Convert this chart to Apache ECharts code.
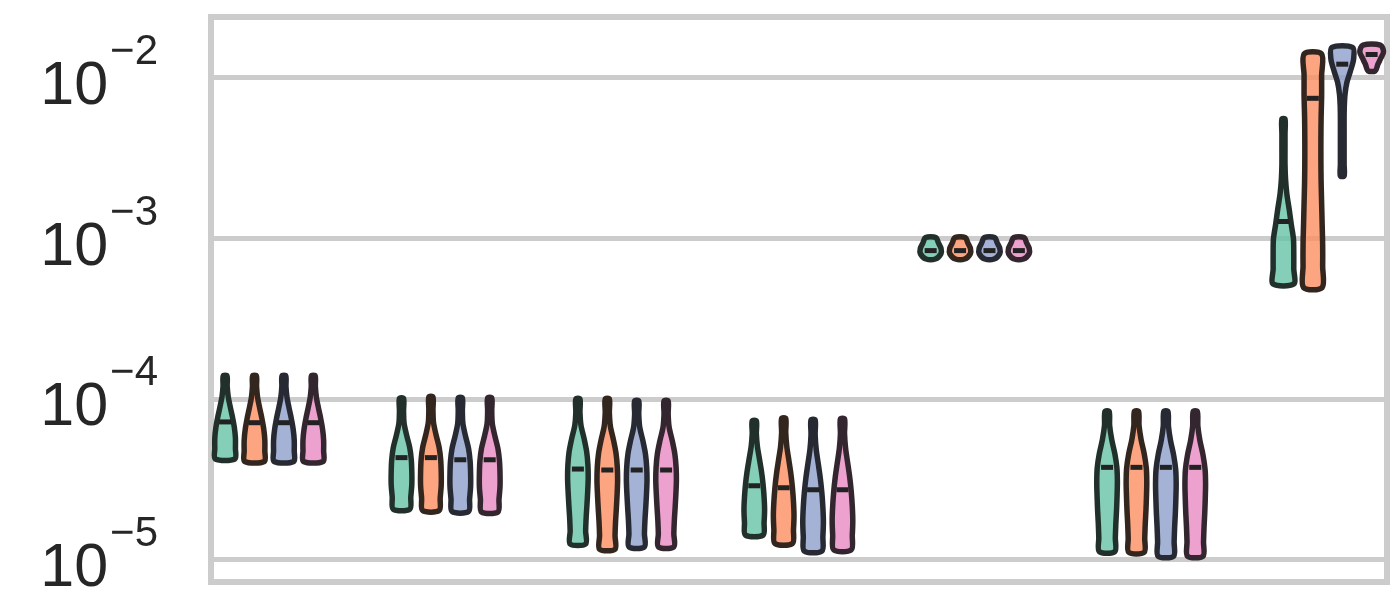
<!DOCTYPE html>
<html><head><meta charset="utf-8">
<script src="https://cdn.jsdelivr.net/npm/echarts@6/dist/echarts.min.js"></script>
<style>html,body{margin:0;padding:0;background:#fff}#c{width:1400px;height:600px}</style>
</head><body><div id="c"></div>
<script>
// ---------- data ----------
const groups = ['G1', 'G2', 'G3', 'G4', 'G5', 'G6', 'G7'];
const hues = ['H1', 'H2', 'H3', 'H4'];
const fillColors = ['rgba(102,194,165,0.8)', 'rgba(252,141,98,0.8)', 'rgba(141,160,203,0.8)', 'rgba(231,138,195,0.8)'];
const edgeColors = ['#22302b', '#33261f', '#272a33', '#33262f'];

// violin lower end (min), per group x hue
const lowValues = [
  [4.23e-5, 4.08e-5, 4.08e-5, 4.08e-5],
  [2.06e-5, 2.02e-5, 1.99e-5, 1.98e-5],
  [1.25e-5, 1.16e-5, 1.20e-5, 1.20e-5],
  [1.42e-5, 1.26e-5, 1.13e-5, 1.15e-5],
  [7.42e-4, 7.42e-4, 7.42e-4, 7.42e-4],
  [1.12e-5, 1.11e-5, 1.05e-5, 1.05e-5],
  [5.19e-4, 4.93e-4, 2.44e-3, 1.10e-2]
];
// violin upper end (max)
const highValues = [
  [1.39e-4, 1.39e-4, 1.39e-4, 1.39e-4],
  [1.006e-4, 1.027e-4, 1.013e-4, 1.013e-4],
  [9.99e-5, 9.99e-5, 9.70e-5, 9.70e-5],
  [7.29e-5, 7.55e-5, 7.39e-5, 7.49e-5],
  [1.01e-3, 1.01e-3, 1.01e-3, 1.01e-3],
  [8.35e-5, 8.35e-5, 8.35e-5, 8.35e-5],
  [5.52e-3, 1.40e-2, 1.54e-2, 1.59e-2]
];
// median marks
const medianValues = [
  [7.19e-5, 7.11e-5, 7.11e-5, 7.11e-5],
  [4.31e-5, 4.31e-5, 4.18e-5, 4.18e-5],
  [3.66e-5, 3.61e-5, 3.61e-5, 3.61e-5],
  [2.88e-5, 2.80e-5, 2.72e-5, 2.72e-5],
  [8.37e-4, 8.37e-4, 8.37e-4, 8.37e-4],
  [3.75e-5, 3.75e-5, 3.75e-5, 3.75e-5],
  [1.27e-3, 7.42e-3, 1.21e-2, 1.39e-2]
];
// relative density (violin width), sampled bottom -> top, evenly in log space
const profG1 = [0.95, 1.0, 1.0, 0.9, 0.72, 0.5, 0.3, 0.2, 0.18];
const profG2 = [0.8, 0.9, 1.0, 1.0, 0.95, 0.8, 0.5, 0.25, 0.2, 0.2];
const profG3 = [0.75, 0.75, 0.8, 0.88, 0.95, 1.0, 0.97, 0.85, 0.6, 0.3, 0.2, 0.2];
const profG4 = [0.85, 0.95, 1.0, 0.95, 0.85, 0.7, 0.5, 0.3, 0.2, 0.2];
const profG5 = [0.45, 1.0, 1.0, 0.75, 0.5];
const profG6 = [0.75, 0.8, 0.85, 0.92, 0.97, 1.0, 0.95, 0.75, 0.45, 0.25, 0.2];
const profG7 = [
  [1.0, 1.0, 1.0, 0.97, 0.75, 0.55, 0.33, 0.2, 0.15, 0.15, 0.15, 0.15],
  [0.9, 0.95, 0.95, 0.9, 0.85, 0.8, 0.78, 0.78, 0.8, 0.85, 0.85, 0.85],
  [0.18, 0.18, 0.18, 0.18, 0.18, 0.18, 0.2, 0.27, 0.45, 0.8, 1.1, 1.0],
  [0.35, 0.6, 0.9, 1.15, 0.85]
];
const densityProfiles = [
  [profG1, profG1, profG1, profG1],
  [profG2, profG2, profG2, profG2],
  [profG3, profG3, profG3, profG3],
  [profG4, profG4, profG4, profG4],
  [profG5, profG5, profG5, profG5],
  [profG6, profG6, profG6, profG6],
  profG7
];
const yTickValues = [1e-5, 1e-4, 1e-3, 1e-2];
const yTickExponents = ['−5', '−4', '−3', '−2'];

// ---------- layout constants ----------
const hueStep = 1 / 6;
const halfWidthUnits = 0.0585;

function renderViolin(params, api) {
  const g = api.value(0);
  const h = api.value(2);
  const xc = g + (h - 1.5) * hueStep;
  const lo = lowValues[g][h], hi = highValues[g][h], prof = densityProfiles[g][h];
  const c0 = api.coord([xc, medianValues[g][h]]);
  const c1 = api.coord([xc + 1, medianValues[g][h]]);
  const halfPx = halfWidthUnits * (c1[0] - c0[0]);
  const llo = Math.log10(lo), lhi = Math.log10(hi);
  const n = prof.length;
  const right = [], left = [];
  for (let i = 0; i < n; i++) {
    const v = Math.pow(10, llo + (lhi - llo) * i / (n - 1));
    const p = api.coord([xc, v]);
    right.push([p[0] + prof[i] * halfPx, p[1]]);
    left.push([p[0] - prof[i] * halfPx, p[1]]);
  }
  const pts = right.concat(left.reverse());
  return {
    type: 'group',
    children: [
      { type: 'polygon', shape: { points: pts, smooth: 0.3 },
        style: { fill: fillColors[h], stroke: edgeColors[h], lineWidth: 5.5, lineJoin: 'round' } },
      { type: 'rect', shape: { x: c0[0] - 6, y: c0[1] - 2.5, width: 12, height: 5 },
        style: { fill: '#222222' } }
    ]
  };
}

const series = hues.map((name, h) => ({
  name: name,
  type: 'custom',
  renderItem: renderViolin,
  encode: { x: 0, y: 1 },
  data: groups.map((gname, g) => [g, medianValues[g][h], h]),
  clip: false,
  z: 5
}));

const chart = echarts.init(document.getElementById('c'), null, { renderer: 'canvas' });
chart.setOption({
  animation: false,
  backgroundColor: '#ffffff',
  grid: { left: 211, right: 13, top: 17, bottom: 18, show: true, borderColor: '#cccccc', borderWidth: 6,
          backgroundColor: 'transparent', containLabel: false, outerBoundsMode: 'none' },
  xAxis: { type: 'value', min: -0.33, max: 6.337, show: false },
  yAxis: {
    type: 'log', logBase: 10, min: 7.254e-6, max: 0.02379,
    axisLine: { show: false }, axisTick: { show: false },
    splitLine: { show: true, lineStyle: { color: '#cccccc', width: 5 } },
    axisLabel: {
      margin: 53,
      showMinLabel: false, showMaxLabel: false,
      formatter: function (v) {
        for (let i = 0; i < yTickValues.length; i++) {
          if (Math.abs(Math.log10(v) - Math.log10(yTickValues[i])) < 1e-6) {
            return '{b|10}{s|' + yTickExponents[i] + '}';
          }
        }
        return '';
      },
      rich: {
        b: { fontFamily: 'Liberation Sans', fontSize: 61, lineHeight: 61, color: '#262626', padding: [19, 0, 0, 0] },
        s: { fontFamily: 'Liberation Sans', fontSize: 42, lineHeight: 42, color: '#262626', padding: [0, 0, 50, 2] }
      }
    }
  },
  series: series
});
</script></body></html>
